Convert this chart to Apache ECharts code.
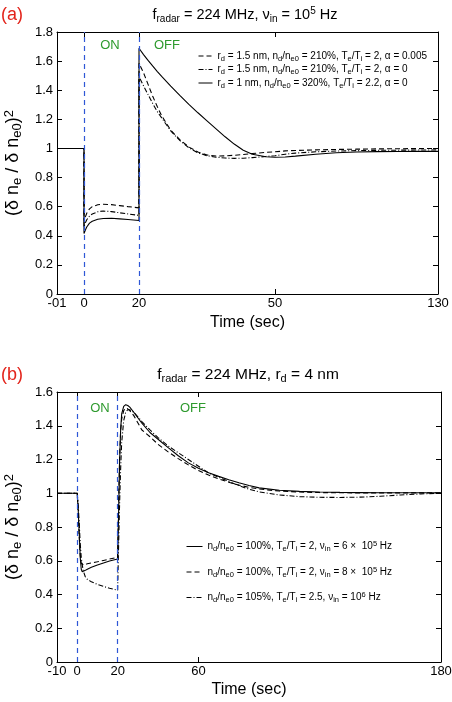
<!DOCTYPE html>
<html>
<head>
<meta charset="utf-8">
<script src="https://cdn.jsdelivr.net/npm/echarts@6/dist/echarts.min.js"></script>
<style>
  html, body { margin: 0; padding: 0; background: #fff; }
  #chart { width: 452px; height: 702px; }
</style>
</head>
<body>
<div id="chart"></div>
<script>
// panel (a): broken time axis, f_radar = 224 MHz, nu_in = 1e5 Hz
const timeKnotsA = [-10, 0, 20, 50, 130]
const axisKnotsA = [0, 27, 82, 218, 381] // where each knot sits on the drawn axis
const tickLabelsA = ['-01', '0', '20', '50', '130']

const timeA = [-10, 0, 0, 0.5, 1, 2, 3, 5, 7, 10, 13, 16, 20, 20, 21, 22, 23, 24, 25, 27,
  29, 31, 33, 35, 37, 39, 41, 43, 45, 48, 50, 55, 60, 70, 80, 90, 100, 110, 120, 130]
const dashedA = [1, 1, 0.50, 0.53, 0.555, 0.585, 0.60, 0.613, 0.617, 0.614, 0.607, 0.600, 0.592,
  1.585, 1.52, 1.44, 1.36, 1.29, 1.225, 1.125, 1.06, 1.01, 0.975, 0.955, 0.948, 0.949, 0.953,
  0.958, 0.965, 0.973, 0.977, 0.983, 0.986, 0.99, 0.993, 0.995, 0.997, 0.998, 0.999, 1.0]
const dashDotA = [1, 1, 0.46, 0.49, 0.51, 0.535, 0.55, 0.565, 0.57, 0.566, 0.558, 0.55, 0.54,
  1.493, 1.43, 1.37, 1.31, 1.255, 1.21, 1.12, 1.055, 1.005, 0.97, 0.95, 0.94, 0.934, 0.932,
  0.933, 0.937, 0.945, 0.95, 0.96, 0.968, 0.977, 0.982, 0.985, 0.987, 0.988, 0.989, 0.99]
const solidA = [1, 1, 0.415, 0.44, 0.46, 0.487, 0.5, 0.513, 0.519, 0.52, 0.516, 0.512, 0.505,
  1.688, 1.645, 1.605, 1.567, 1.53, 1.495, 1.428, 1.364, 1.303, 1.245, 1.19, 1.135, 1.08, 1.03,
  0.988, 0.96, 0.943, 0.94, 0.941, 0.947, 0.96, 0.97, 0.976, 0.978, 0.979, 0.98, 0.98]

// panel (b): f_radar = 224 MHz, r_d = 4 nm
const ticksB = [-10, 0, 20, 60, 180]
const timeB = [-10, 0, 0.5, 1, 1.5, 2, 2.5, 3, 4, 5, 7, 10, 13, 16, 20, 20.5, 21, 21.5, 22, 23,
  24, 25, 26, 28, 32, 36, 40, 45, 50, 55, 60, 65, 70, 75, 80, 85, 90, 100, 110, 120,
  130, 140, 150, 160, 170, 180]
const solidB = [1, 1, 0.9, 0.76, 0.62, 0.55, 0.535, 0.537, 0.543, 0.55, 0.561, 0.575, 0.587, 0.598,
  0.61, 0.9, 1.2, 1.38, 1.47, 1.515, 1.525, 1.52, 1.51, 1.48, 1.415, 1.36, 1.32, 1.27, 1.222, 1.18,
  1.148, 1.122, 1.1, 1.08, 1.062, 1.046, 1.032, 1.018, 1.011, 1.007, 1.005, 1.004, 1.003, 1.003,
  1.003, 1.003]
const dashedB = [1, 1, 0.88, 0.74, 0.63, 0.585, 0.575, 0.575, 0.578, 0.582, 0.587, 0.594, 0.602,
  0.61, 0.62, 0.95, 1.22, 1.37, 1.44, 1.49, 1.505, 1.5, 1.49, 1.46, 1.375, 1.335, 1.29, 1.245,
  1.205, 1.168, 1.135, 1.108, 1.085, 1.065, 1.048, 1.035, 1.025, 1.013, 1.007, 1.004, 1.003,
  1.002, 1.002, 1.002, 1.002, 1.002]
const dashDotB = [1, 1, 0.93, 0.82, 0.7, 0.62, 0.575, 0.54, 0.505, 0.49, 0.475, 0.46, 0.448, 0.437,
  0.425, 0.7, 0.95, 1.15, 1.3, 1.43, 1.48, 1.495, 1.495, 1.48, 1.425, 1.375, 1.33, 1.28, 1.24,
  1.2, 1.16, 1.12, 1.095, 1.07, 1.045, 1.024, 1.008, 0.99, 0.98, 0.976, 0.975, 0.977, 0.982,
  0.99, 0.996, 1.0]

// legend texts, _{..} = subscript, ^{..} = superscript
const namesA = [
  'r_{d} = 1.5 nm, n_{d}/n_{e0} = 210%, T_{e}/T_{i} = 2, α = 0.005',
  'r_{d} = 1.5 nm, n_{d}/n_{e0} = 210%, T_{e}/T_{i} = 2, α = 0',
  'r_{d} = 1 nm, n_{d}/n_{e0} = 320%, T_{e}/T_{i} = 2.2, α = 0'
]
const namesB = [
  'n_{d}/n_{e0} = 100%, T_{e}/T_{i} = 2, ν_{in} = 6 ×  10^{5} Hz',
  'n_{d}/n_{e0} = 100%, T_{e}/T_{i} = 2, ν_{in} = 8 ×  10^{5} Hz',
  'n_{d}/n_{e0} = 105%, T_{e}/T_{i} = 2.5, ν_{in} = 10^{6} Hz'
]

const FONT = "'Liberation Sans', Arial, sans-serif"
const DASH = [5, 3]
const DASHDOT = [5, 2, 1, 2]

function rich(str) {
  return '{n|' + str.replace(/_\{([^}]*)\}/g, '}{s|$1}{n|').replace(/\^\{([^}]*)\}/g, '}{p|$1}{n|') + '}'
}

function richStyles(size, small, shift) {
  return {
    n: { fontSize: size, fontFamily: FONT, color: '#000' },
    s: { fontSize: small, fontFamily: FONT, color: '#000', padding: [shift, 0, 0, 0] },
    p: { fontSize: small, fontFamily: FONT, color: '#000', padding: [0, 0, shift, 0] }
  }
}

function gRich(size, small, shift) {
  const r = richStyles(size, small, shift)
  Object.keys(r).forEach((k) => { r[k].fill = '#000'; delete r[k].color })
  return r
}

function warpA(t) {
  for (let i = 1; i < timeKnotsA.length; i++) {
    if (t <= timeKnotsA[i]) {
      const f = (t - timeKnotsA[i - 1]) / (timeKnotsA[i] - timeKnotsA[i - 1])
      return axisKnotsA[i - 1] + f * (axisKnotsA[i] - axisKnotsA[i - 1])
    }
  }
  return axisKnotsA[axisKnotsA.length - 1]
}

function series(name, idx, times, vals, dash, warp) {
  return {
    name: name,
    type: 'line',
    xAxisIndex: idx,
    yAxisIndex: idx,
    showSymbol: false,
    symbol: 'none',
    lineStyle: { color: '#000', width: 1.1, type: dash },
    itemStyle: { color: '#000' },
    data: times.map((t, i) => [warp ? warp(t) : t, vals[i]])
  }
}

function onOffLines(xs) {
  return {
    silent: true,
    symbol: 'none',
    label: { show: false },
    lineStyle: { color: '#2f57d6', type: [5, 4], width: 1.2 },
    data: xs.map((x) => ({ xAxis: x }))
  }
}

const axisLine = { show: true, onZero: false, lineStyle: { color: '#000', width: 1 } }
const tickIn = { show: true, inside: true, length: 5, lineStyle: { color: '#000' } }
const labelStyle = { color: '#000', fontSize: 13, fontFamily: FONT }

function yAxes(grid, max) {
  return [
    {
      type: 'value', gridIndex: grid, min: 0, max: max, interval: 0.2, position: 'left',
      axisLine: axisLine, axisTick: tickIn, splitLine: { show: false },
      axisLabel: Object.assign({ margin: 4 }, labelStyle),
      name: rich('(δ n_{e} / δ n_{e0})^{2}'), nameLocation: 'middle', nameGap: 26, nameRotate: 90,
      nameTextStyle: { rich: richStyles(18, 13, 8) }
    },
    {
      type: 'value', gridIndex: grid, min: 0, max: max, interval: 0.2, position: 'right',
      axisLine: axisLine, axisTick: tickIn, splitLine: { show: false }, axisLabel: { show: false }
    }
  ]
}

const tickValsA = timeKnotsA.map(warpA)

function note(text, x, y, color, size) {
  return {
    type: 'text', x: x, y: y,
    style: { text: text, fill: color, fontSize: size, fontFamily: FONT, align: 'center', verticalAlign: 'middle' }
  }
}

const legendBase = {
  orient: 'vertical', itemHeight: 8, selectedMode: false, formatter: rich,
  itemStyle: { opacity: 0 },
  lineStyle: { width: 1 },
  textStyle: { rich: richStyles(10, 7.5, 5) }
}

const option = {
  animation: false,
  backgroundColor: '#fff',
  textStyle: { fontFamily: FONT },
  grid: [
    { left: 57, top: 32, width: 381, height: 262, containLabel: false, outerBoundsMode: 'none' },
    { left: 57, top: 392, width: 384, height: 270, containLabel: false, outerBoundsMode: 'none' }
  ],
  xAxis: [
    {
      type: 'value', gridIndex: 0, min: 0, max: axisKnotsA[axisKnotsA.length - 1], position: 'bottom',
      axisLine: axisLine, splitLine: { show: false },
      axisTick: Object.assign({ customValues: tickValsA }, tickIn),
      axisLabel: Object.assign({
        margin: 3,
        customValues: tickValsA,
        formatter: (v) => {
          const i = tickValsA.findIndex((u) => Math.abs(u - v) < 0.01)
          return i < 0 ? '' : tickLabelsA[i]
        }
      }, labelStyle),
      name: 'Time (sec)', nameLocation: 'middle', nameGap: 21,
      nameTextStyle: { color: '#000', fontSize: 16, fontFamily: FONT }
    },
    {
      type: 'value', gridIndex: 0, min: 0, max: axisKnotsA[axisKnotsA.length - 1], position: 'top',
      axisLine: axisLine, splitLine: { show: false },
      axisTick: Object.assign({ customValues: tickValsA }, tickIn), axisLabel: { show: false }
    },
    {
      type: 'value', gridIndex: 1, min: -10, max: 180, position: 'bottom',
      axisLine: axisLine, splitLine: { show: false },
      axisTick: Object.assign({ customValues: ticksB }, tickIn),
      axisLabel: Object.assign({ margin: 3, customValues: ticksB }, labelStyle),
      name: 'Time (sec)', nameLocation: 'middle', nameGap: 20,
      nameTextStyle: { color: '#000', fontSize: 16, fontFamily: FONT }
    },
    {
      type: 'value', gridIndex: 1, min: -10, max: 180, position: 'top',
      axisLine: axisLine, splitLine: { show: false },
      axisTick: Object.assign({ customValues: ticksB }, tickIn), axisLabel: { show: false }
    }
  ],
  yAxis: [].concat(yAxes(0, 1.8), yAxes(1, 1.6)),
  legend: [
    Object.assign({ data: namesA, left: 193, top: 46, itemWidth: 14, itemGap: 2 }, legendBase),
    Object.assign({ data: namesB, left: 181, top: 535, itemWidth: 16, itemGap: 12.5 }, legendBase)
  ],
  series: [
    Object.assign(series(namesA[0], 0, timeA, dashedA, DASH, warpA),
      { markLine: onOffLines([warpA(0), warpA(20)]) }),
    series(namesA[1], 0, timeA, dashDotA, DASHDOT, warpA),
    series(namesA[2], 0, timeA, solidA, 'solid', warpA),
    Object.assign(series(namesB[0], 2, timeB, solidB, 'solid'), { markLine: onOffLines([0, 20]) }),
    series(namesB[1], 2, timeB, dashedB, DASH),
    series(namesB[2], 2, timeB, dashDotB, DASHDOT)
  ],
  graphic: [
    { type: 'text', x: 1, y: 15, style: { text: '(a)', fill: '#e3241b', fontSize: 18, fontFamily: FONT, verticalAlign: 'middle' } },
    { type: 'text', x: 1, y: 375, style: { text: '(b)', fill: '#e3241b', fontSize: 18, fontFamily: FONT, verticalAlign: 'middle' } },
    {
      type: 'text', x: 245, y: 15,
      style: { text: rich('f_{radar} = 224 MHz, ν_{in} = 10^{5} Hz'), rich: gRich(14.5, 10, 8), fill: '#000', align: 'center', verticalAlign: 'middle' }
    },
    {
      type: 'text', x: 248, y: 375,
      style: { text: rich('f_{radar} = 224 MHz, r_{d} = 4 nm'), rich: gRich(15.5, 11, 8), fill: '#000', align: 'center', verticalAlign: 'middle' }
    },
    note('ON', 110, 45, '#2e9a2e', 13),
    note('OFF', 167, 45, '#2e9a2e', 13),
    note('ON', 100, 408, '#2e9a2e', 13),
    note('OFF', 193, 408, '#2e9a2e', 13)
  ]
}

const chart = echarts.init(document.getElementById('chart'))
chart.setOption(option)
</script>
</body>
</html>
